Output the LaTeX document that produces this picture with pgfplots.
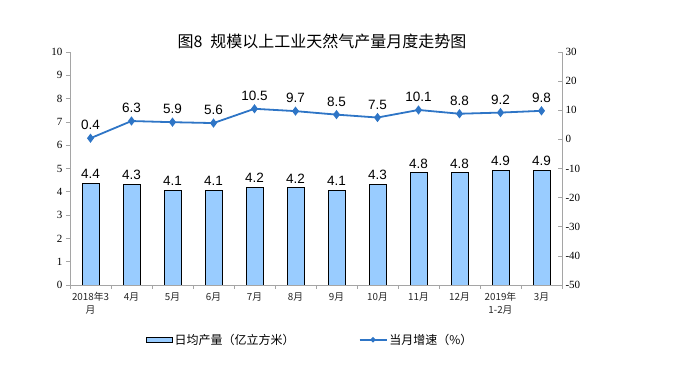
\documentclass[border=0pt]{standalone}
\usepackage{pgfplots}
\pgfplotsset{compat=1.18}
\usepackage{fontspec}
\setmainfont{Liberation Sans}
\newfontfamily\cjk{Noto Sans CJK SC}
\newfontfamily\serif{Liberation Serif}
\definecolor{barblue}{RGB}{153,204,255}
\definecolor{lineblue}{RGB}{46,117,198}
\definecolor{axgray}{RGB}{165,165,165}
\begin{document}
\begin{tikzpicture}[x=1pt,y=1pt]
\useasboundingbox (0,0) rectangle (680,383);
\node[font=\cjk\fontsize{16}{19}\selectfont] at (322,342) {图8\hspace{0.5em}规模以上工业天然气产量月度走势图};
\begin{axis}[
  at={(70pt,98pt)}, anchor=south west, scale only axis,
  width=492pt, height=233pt,
  xmin=-0.5, xmax=11.5, ymin=0, ymax=10,
  ytick={0,1,...,10},
  axis y line*=left, axis x line*=bottom,
  axis line style={axgray, line width=0.8pt},
  tick style={axgray, line width=0.6pt},
  tick align=outside, major tick length=4pt,
  xtick={-0.5,0.5,...,11.5},
  x tick label as interval=true,
  xticklabels={{2018年3\\月},4月,5月,6月,7月,8月,9月,10月,11月,12月,{2019年\\1-2月},3月},
  xticklabel style={font=\cjk\fontsize{9.8}{12.5}\selectfont, align=center, text=black!85, anchor=north},
  yticklabel style={font=\serif\fontsize{11}{12}\selectfont},
  /pgf/number format/assume math mode=true,
  ybar, bar width=17pt,
]
\addplot[draw=black, line width=0.9pt, fill=barblue,
  nodes near coords, point meta=explicit symbolic,
  nodes near coords style={font=\fontsize{13.5}{15}\selectfont, black, yshift=1pt}]
coordinates {(0,4.37)[4.4] (1,4.31)[4.3] (2,4.06)[4.1] (3,4.06)[4.1] (4,4.2)[4.2] (5,4.17)[4.2]
 (6,4.06)[4.1] (7,4.33)[4.3] (8,4.81)[4.8] (9,4.81)[4.8] (10,4.93)[4.9] (11,4.93)[4.9]};
\end{axis}
\begin{axis}[
  at={(70pt,98pt)}, anchor=south west, scale only axis,
  width=492pt, height=233pt,
  xmin=-0.5, xmax=11.5, ymin=-50, ymax=30,
  ytick={-50,-40,...,30},
  axis y line*=right, axis x line=none,
  axis line style={axgray, line width=0.8pt},
  tick style={axgray, line width=0.6pt},
  tick align=inside, major tick length=4pt,
  yticklabel style={font=\serif\fontsize{11}{12}\selectfont},
  /pgf/number format/assume math mode=true,
  legend style={at={(0.488,-0.235)}, anchor=center, draw=none, fill=none,
    font=\cjk\fontsize{12}{14}\selectfont, legend columns=2,
    /tikz/every even column/.append style={column sep=62pt}},
]
\addlegendimage{legend image code/.code={\draw[fill=barblue, draw=black, line width=0.9pt] (0pt,-2.5pt) rectangle (26pt,2.5pt);}}
\addlegendentry{日均产量（亿立方米）}
\addplot[lineblue, line width=1.8pt, mark=diamond*, mark size=3.2pt,
  nodes near coords, point meta=explicit symbolic,
  nodes near coords style={font=\fontsize{13.5}{15}\selectfont, black, yshift=4pt},
  legend image code/.code={\draw[lineblue, line width=1.8pt] (0pt,0pt) -- (27pt,0pt); \fill[lineblue] (13.5pt,0pt) circle (1.6pt);}]
coordinates {(0,0.4)[0.4] (1,6.3)[6.3] (2,5.9)[5.9] (3,5.6)[5.6] (4,10.5)[10.5] (5,9.7)[9.7]
 (6,8.5)[8.5] (7,7.5)[7.5] (8,10.1)[10.1] (9,8.8)[8.8] (10,9.2)[9.2] (11,9.8)[9.8]};
\addlegendentry{当月增速（\%）}
\end{axis}
\end{tikzpicture}
\end{document}
